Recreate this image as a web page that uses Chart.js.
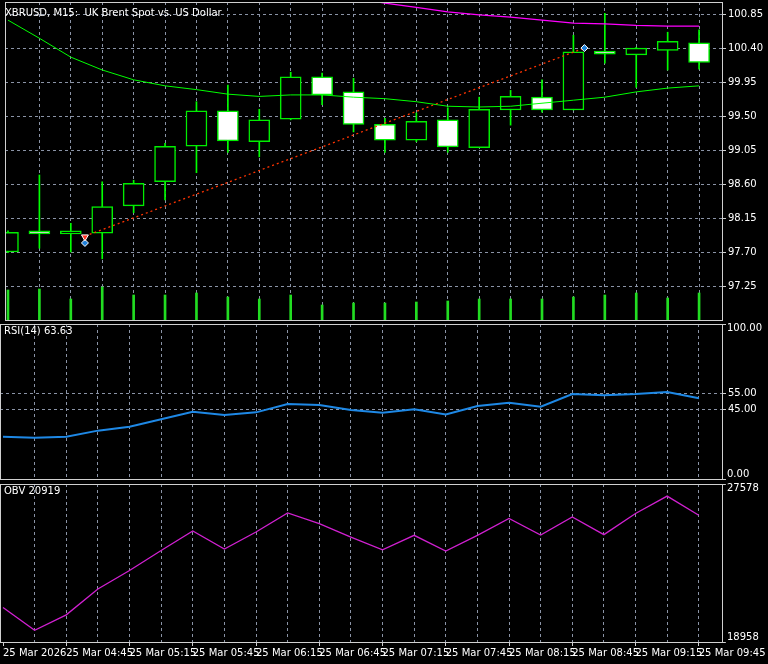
<!DOCTYPE html>
<html>
<head>
<meta charset="utf-8">
<script src="https://cdn.jsdelivr.net/npm/chart.js@4"></script>
<style>
  html, body { margin: 0; padding: 0; background: #000; }
  #wrap { position: relative; width: 768px; height: 664px; background: #000; overflow: hidden; }
  canvas { position: absolute; left: 0; }
  .ttl { position: absolute; color: #fff; font: 10px "DejaVu Sans", sans-serif; white-space: pre; }
</style>
</head>
<body>
<div id="wrap">
  <canvas id="main" style="top:-6px" width="768" height="334"></canvas>
  <canvas id="rsi" style="top:316px" width="768" height="171"></canvas>
  <canvas id="obv" style="top:476px" width="768" height="188"></canvas>
  <div class="ttl" style="left:5px;top:7px">XBRUSD, M15:  UK Brent Spot vs. US Dollar</div>
  <div class="ttl" style="left:4px;top:325px">RSI(14) 63.63</div>
  <div class="ttl" style="left:4px;top:485px">OBV 20919</div>
  <div class="ttl" style="left:727px;top:322px">100.00</div>
  <div class="ttl" style="left:727px;top:468px">0.00</div>
  <div class="ttl" style="left:727px;top:482px">27578</div>
  <div class="ttl" style="left:727px;top:631px">18958</div>
</div>
<script>
'use strict';

/* DATA */
const times = ['04:15','04:30','04:45','05:00','05:15','05:30','05:45','06:00','06:15','06:30','06:45','07:00',
  '07:15','07:30','07:45','08:00','08:15','08:30','08:45','09:00','09:15','09:30','09:45'];
const opens  = [97.70,97.96,97.94,97.95,98.31,98.63,99.10,99.57,99.16,99.46,100.02,99.82,99.39,99.18,99.45,99.08,99.58,99.75,99.58,100.34,100.31,100.37,100.47];
const highs  = [97.98,98.72,98.08,98.63,98.65,99.14,99.69,99.91,99.59,100.08,100.07,100.00,99.47,99.54,99.61,99.75,99.84,99.98,100.57,100.86,100.41,100.61,100.64];
const lows   = [97.69,97.75,97.70,97.61,98.22,98.39,98.75,99.02,98.96,99.45,99.65,99.29,99.02,99.16,99.02,99.08,99.38,99.55,99.58,100.20,99.88,100.11,100.12];
const closes = [97.96,97.94,97.95,98.30,98.61,99.10,99.57,99.17,99.45,100.02,99.78,99.39,99.18,99.43,99.09,99.59,99.76,99.58,100.35,100.32,100.40,100.49,100.21];
const volumes = [30,31,21,33,25,25,27,23,21,25,15,17,17,18,19,21,21,21,23,25,27,22,27];
const maFast = [100.77,100.53,100.28,100.11,99.98,99.90,99.85,99.79,99.76,99.78,99.78,99.75,99.73,99.69,99.63,99.62,99.63,99.67,99.71,99.75,99.82,99.87,99.90];
const maSlow = [null,null,null,null,null,null,null,null,null,null,101.15,101.06,100.996,100.94,100.88,100.84,100.81,100.77,100.73,100.72,100.70,100.69,100.69];
const rsi = [27.3,26.6,27.3,31.2,33.7,38.5,43.4,41.3,43.0,48.4,47.7,44.5,42.8,45.0,41.7,47.1,49.2,46.6,54.8,54.0,54.8,56.1,52.1];
const obv = [20841,19600,20440,21851,22856,23954,25013,24025,24959,26002,25420,24684,23992,24777,23915,24777,25694,24794,25782,24816,25969,26919,25875];
const priceTicks = [97.25,97.70,98.15,98.60,99.05,99.50,99.95,100.40,100.85];
const rsiTicks = [0,45,55,100];
const obvTicks = [18958,27578];
const trade = [{ x: 2.45, y: 97.91 }, { x: 18.35, y: 100.40 }];

const FONT = { family: "'DejaVu Sans'", size: 10 };
const GRIDC = '#8a93a6';
const XMIN = -0.095, XMAX = 22.73;

const frame = {
  id: 'frame',
  afterDraw(c) {
    const a = c.chartArea, g = c.ctx;
    g.save();
    g.strokeStyle = '#d0d0d0';
    g.lineWidth = 1;
    g.strokeRect(Math.round(a.left) + 0.5, Math.round(a.top) + 0.5, Math.round(a.right - a.left), Math.round(a.bottom - a.top));
    g.restore();
  }
};

function xAxis(showLabels) {
  return {
    type: 'linear', min: XMIN, max: XMAX, offset: false,
    afterBuildTicks: s => { s.ticks = times.map((_, i) => ({ value: i })); },
    afterFit: s => { s.height = showLabels ? 22 : 0; },
    display: true,
    border: { display: false, dash: [3, 3] },
    grid: {
      offset: false,
      color: ctx => ctx.index === 0 ? 'rgba(0,0,0,0)' : GRIDC,
      drawTicks: showLabels, tickLength: 4,
      tickColor: ctx => ctx.index % 2 === 0 ? '#d0d0d0' : 'rgba(0,0,0,0)',
      tickBorderDash: [0]
    },
    ticks: {
      display: showLabels, autoSkip: false, maxRotation: 0, align: 'start', padding: 1,
      color: '#fff', font: FONT,
      callback: (v, i) => i % 2 ? '' : (i === 0 ? '25 Mar 2026' : '25 Mar ' + times[i])
    }
  };
}

function yAxis(min, max, ticks, fmt) {
  return {
    position: 'right', min, max,
    afterBuildTicks: s => { s.ticks = ticks.map(v => ({ value: v })); },
    afterFit: s => { s.width = 46; },
    border: { display: false, dash: [3, 3] },
    grid: { color: GRIDC, tickLength: 4, tickColor: '#d0d0d0', tickBorderDash: [0] },
    ticks: { color: '#fff', font: FONT, padding: 2, callback: fmt }
  };
}

const baseOpts = (pad) => ({
  responsive: false, animation: false,
  layout: { padding: pad },
  plugins: { legend: { display: false }, tooltip: { enabled: false } }
});

/* MAIN PRICE PANEL */
const idx = times.map((_, i) => i);
new Chart(document.getElementById('main'), {
  type: 'bar',
  data: {
    datasets: [
      { type: 'bar', yAxisID: 'v', grouped: false, data: idx.map(i => ({ x: i, y: volumes[i] })), backgroundColor: '#22dd22', barThickness: 2, order: 6 },
      { type: 'bar', grouped: false, data: idx.map(i => ({ x: i, y: [lows[i], highs[i]] })), backgroundColor: '#00ff00', barThickness: 1, order: 5 },
      { type: 'bar', grouped: false, data: idx.map(i => ({ x: i, y: [opens[i], closes[i]] })),
        backgroundColor: idx.map(i => closes[i] >= opens[i] ? '#000' : '#fff'),
        borderColor: '#00ee00', borderWidth: 1.5, borderSkipped: false, barThickness: 21, minBarLength: 3, order: 4 },
      { type: 'line', data: idx.map(i => ({ x: i, y: maFast[i] })), borderColor: '#00ff00', borderWidth: 1, pointRadius: 0, order: 3 },
      { type: 'line', data: idx.map(i => ({ x: i, y: maSlow[i] })), borderColor: '#ff00ff', borderWidth: 1.3, pointRadius: 0, order: 2 },
      { type: 'line', data: trade, borderColor: '#ff3300', borderWidth: 1.3, borderDash: [2, 3], pointRadius: 0, order: 1 },
      { type: 'scatter', data: [{ x: 2.45, y: 97.90 }], pointStyle: 'triangle', rotation: 180, radius: 4, backgroundColor: '#ff3322', borderColor: '#fff', order: 0 },
      { type: 'scatter', data: [{ x: 2.45, y: 97.82 }, { x: 18.35, y: 100.40 }], pointStyle: 'rectRot', radius: 3.5, backgroundColor: '#1e7fd8', borderColor: '#fff', order: 0 }
    ]
  },
  options: Object.assign(baseOpts({ top: 0, left: 0, bottom: 0 }), {
    scales: {
      x: xAxis(false),
      y: yAxis(96.80, 101.01, priceTicks, v => v.toFixed(2)),
      v: { display: false, min: 0, max: 318 }
    }
  }),
  plugins: [frame]
});

/* RSI PANEL (edge labels 0 and 100 are placed as text above) */
new Chart(document.getElementById('rsi'), {
  type: 'line',
  data: { datasets: [{ data: idx.map(i => ({ x: i, y: rsi[i] })), borderColor: '#1e88e5', borderWidth: 2, pointRadius: 0 }] },
  options: Object.assign(baseOpts({ top: 0, left: 0, bottom: 0 }), {
    scales: { x: xAxis(false), y: yAxis(0, 100, rsiTicks, v => (v === 0 || v === 100) ? '      ' : v.toFixed(2)) }
  }),
  plugins: [frame]
});

/* OBV PANEL */
new Chart(document.getElementById('obv'), {
  type: 'line',
  data: { datasets: [{ data: idx.map(i => ({ x: i, y: obv[i] })), borderColor: '#d020d0', borderWidth: 1.3, pointRadius: 0 }] },
  options: Object.assign(baseOpts({ top: 0, left: 0, bottom: 0 }), {
    scales: { x: xAxis(true), y: yAxis(18958, 27578, obvTicks, () => '     ') }
  }),
  plugins: [frame]
});
</script>
</body>
</html>
